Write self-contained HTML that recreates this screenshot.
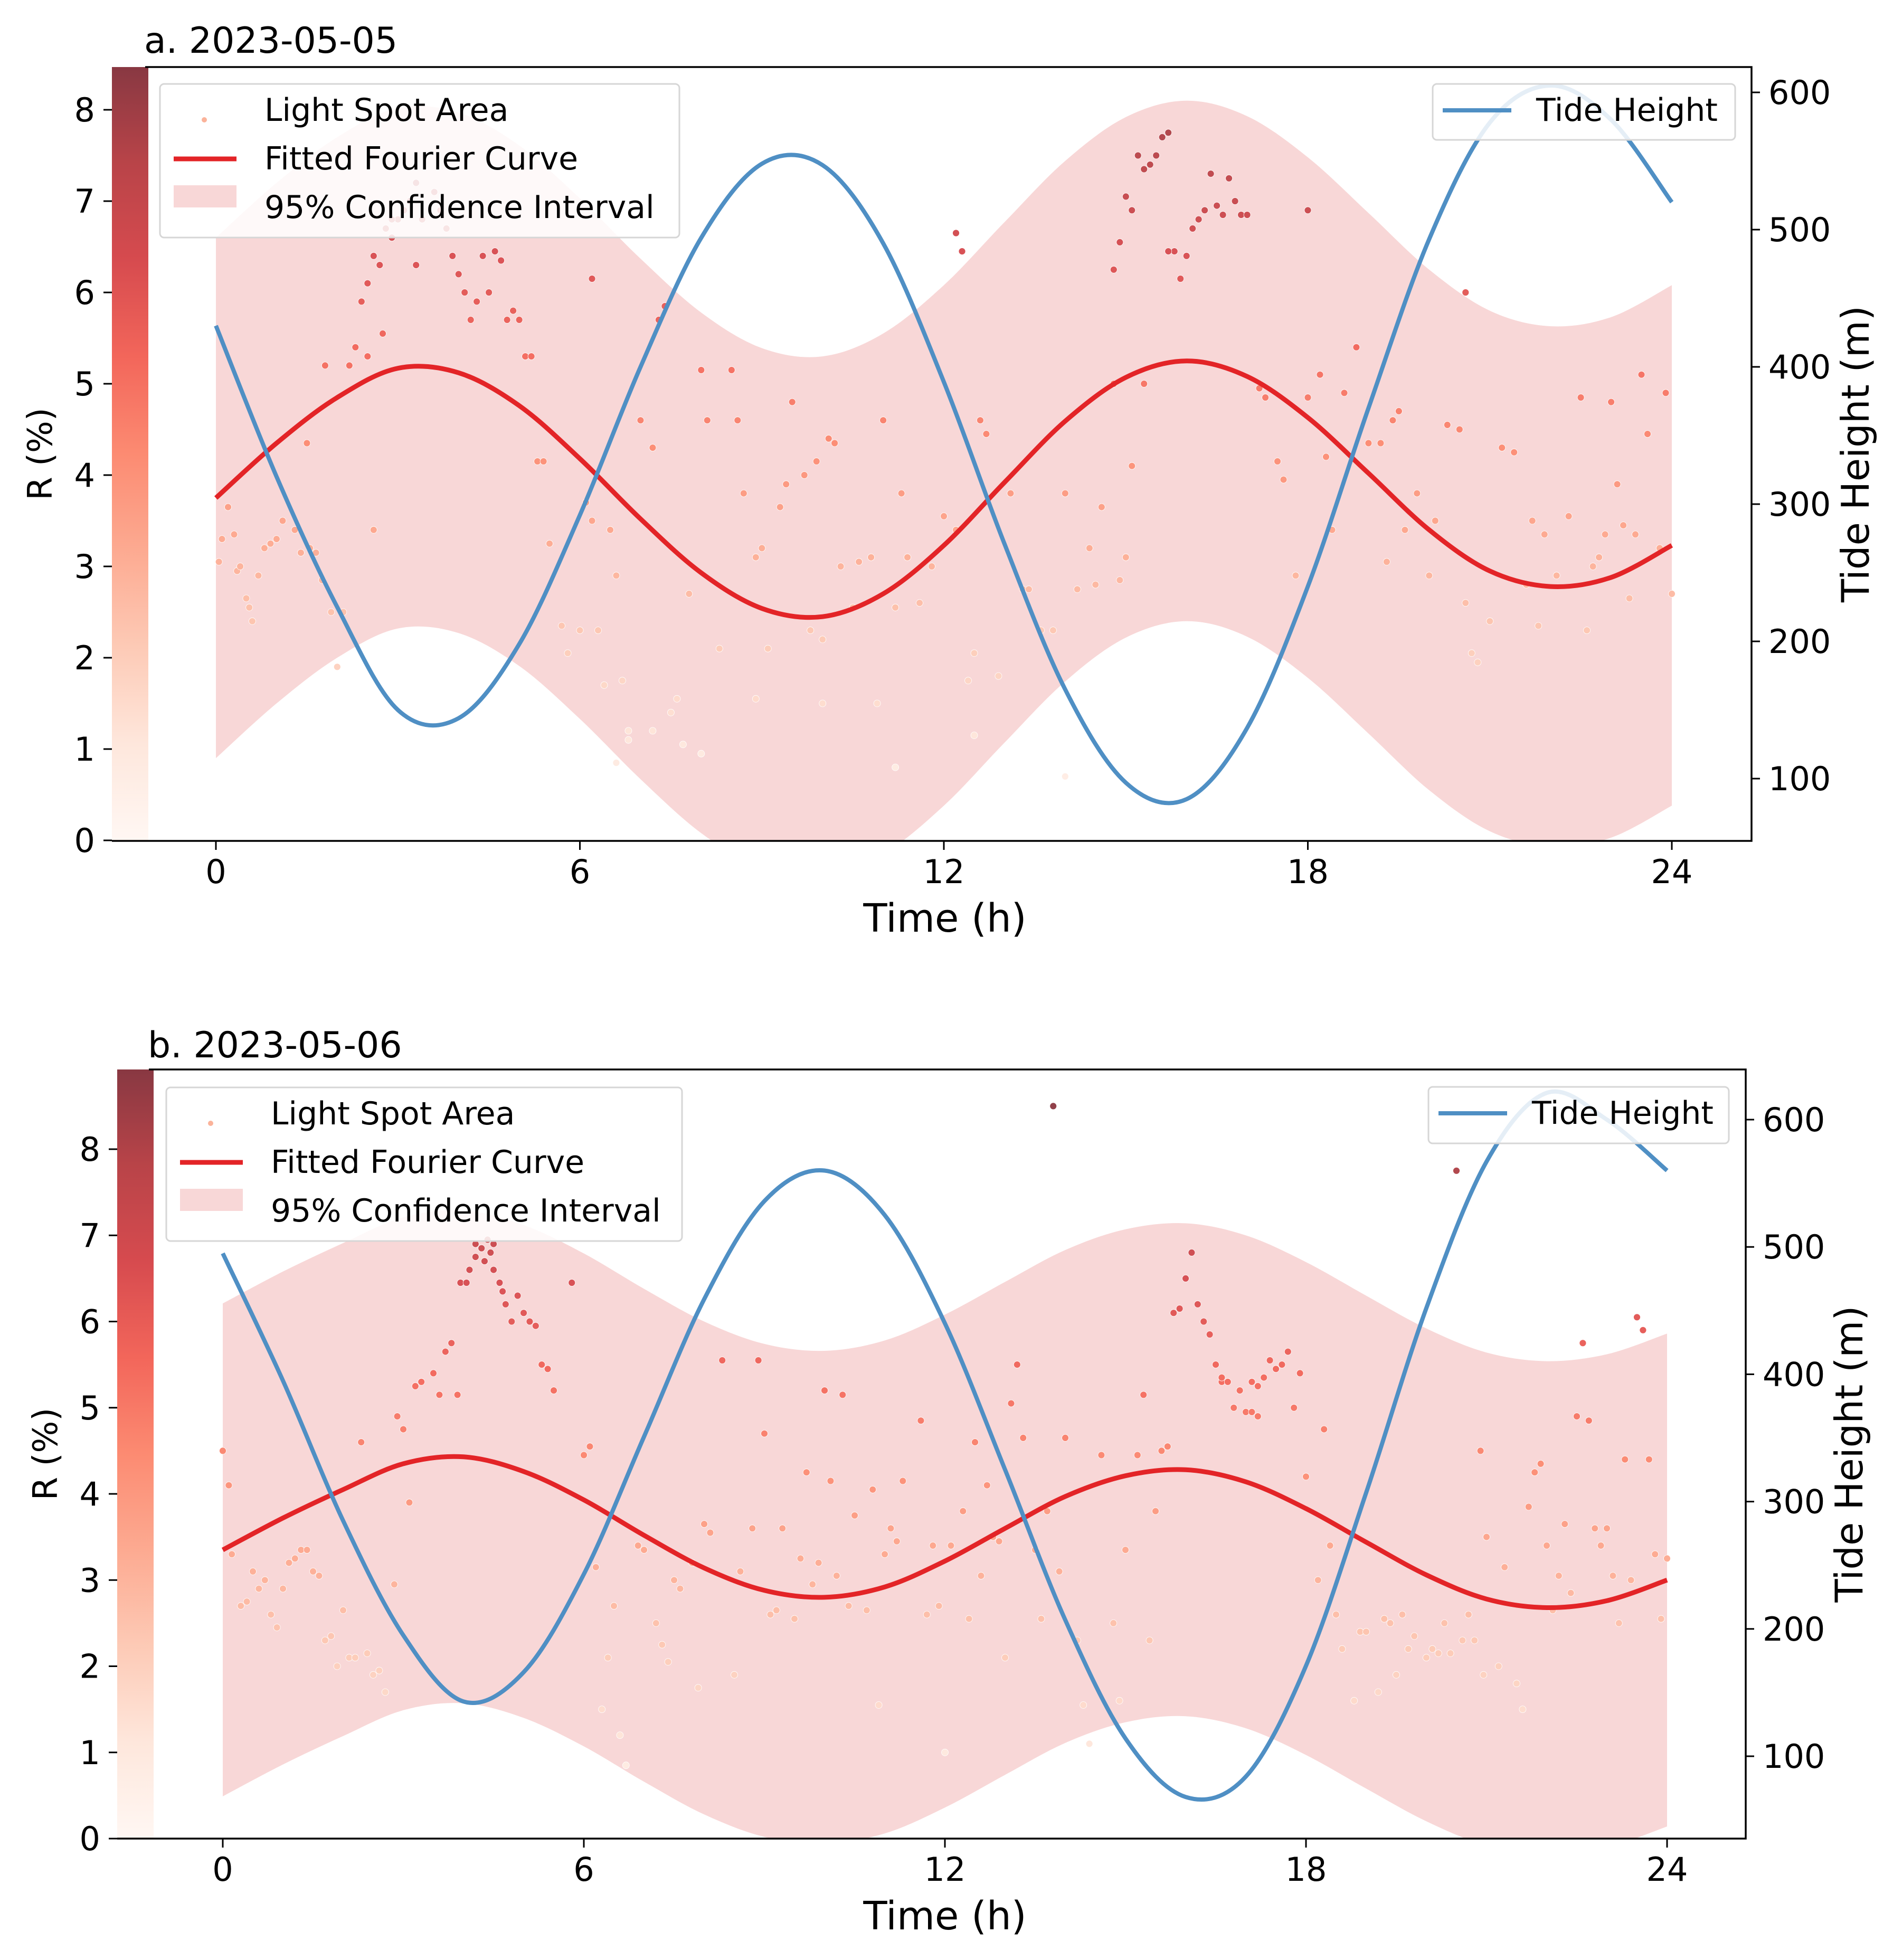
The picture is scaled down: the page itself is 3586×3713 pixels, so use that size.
<!DOCTYPE html>
<html><head><meta charset="utf-8">
<style>
html,body{margin:0;padding:0;background:#fff;}
svg{display:block;font-family:"DejaVu Sans","Liberation Sans",sans-serif;}
</style></head>
<body>
<svg id="chart" width="3586" height="3713" viewBox="0 0 3586 3713" xmlns="http://www.w3.org/2000/svg">
<defs>
<linearGradient id="cbar" x1="0" y1="1" x2="0" y2="0">
<stop offset="0" stop-color="#fff5f0"/><stop offset="0.125" stop-color="#fee0d2"/><stop offset="0.25" stop-color="#fcbba1"/><stop offset="0.375" stop-color="#fc9272"/><stop offset="0.5" stop-color="#fb6a4a"/><stop offset="0.625" stop-color="#ef3b2c"/><stop offset="0.75" stop-color="#cb181d"/><stop offset="0.875" stop-color="#a50f15"/><stop offset="1" stop-color="#67000d"/>
</linearGradient>
</defs>
</svg>
<script>
// ===== Panel a data (2023-05-05) =====
const hoursA = [0,1,2,3,4,5,6,7,8,9,10,11,12,13,14,15,16,17,18,19,20,21,22,23,24];
const tideA = [430,320,225,150,144,198,292,400,494,548,547,490,389,271,165,97,85,137,240,370,493,578,605,580,520];
const fitA = [3.75,4.35,4.85,5.17,5.12,4.76,4.18,3.52,2.93,2.54,2.45,2.7,3.23,3.92,4.59,5.07,5.25,5.08,4.63,4.02,3.4,2.95,2.78,2.88,3.23];
const ciHalfA = [2.85];
const pointsTA = [2.2,2.3,2.4,2.5,2.6,2.8,2.9,3.0,3.1,3.2,3.3,3.4,3.6,3.7,3.8,3.9,4.0,4.1,4.2,4.3,4.4,4.5,4.6,4.7,4.8,4.9,5.0,5.1,2.7,2.9,3.3,2.75,2.5,1.8,5.2,
0.05,0.1,0.2,0.3,0.35,0.4,0.5,0.55,0.6,0.7,0.8,0.9,1.0,1.1,1.3,1.4,1.5,1.55,1.65,1.75,1.9,2.0,2.1,2.6,5.3,5.4,5.5,5.7,5.8,6.0,6.1,6.2,6.3,6.4,6.5,6.6,6.7,6.8,7.0,7.2,7.3,7.4,7.6,7.8,8.0,8.1,8.3,8.5,8.6,8.7,8.9,9.0,9.1,9.3,9.4,9.5,9.7,9.8,9.9,10.0,10.1,10.2,10.3,10.5,10.6,10.8,10.9,11.0,11.2,11.3,11.4,11.6,11.8,12.0,12.2,12.4,12.5,12.6,12.7,12.9,13.1,13.3,13.4,13.6,13.8,14.0,14.2,14.4,14.5,14.6,14.8,14.9,15.0,15.3,15.1,
14.8,14.9,15.0,15.1,15.2,15.3,15.4,15.5,15.6,15.7,15.8,15.9,16.0,16.1,16.2,16.3,16.4,16.5,16.6,16.7,16.8,16.9,17.0,15.7,12.2,12.3,18.0,20.6,6.2,
17.2,17.3,17.5,17.6,17.8,18.0,18.2,18.3,18.4,18.6,18.8,19.0,19.2,19.3,19.4,19.5,19.6,19.8,20.0,20.1,20.3,20.5,20.6,20.7,20.8,21.0,21.2,21.4,21.6,21.8,21.9,22.1,22.3,22.5,22.6,22.7,22.8,23.0,23.1,23.2,23.4,23.5,23.6,23.8,24.0,23.3,22.9,21.7,23.9,
6.8,7.2,7.7,8.0,7.5,11.2,12.5,10.0,14.0,8.9,6.6];
const pointsRA = [5.2,5.4,5.9,6.1,6.4,6.7,6.6,6.8,6.9,7.0,7.2,6.8,7.1,6.9,6.7,6.4,6.2,6.0,5.7,5.9,6.4,6.0,6.45,6.35,5.7,5.8,5.7,5.3,6.3,6.8,6.3,5.55,5.3,5.2,5.3,
3.05,3.3,3.65,3.35,2.95,3.0,2.65,2.55,2.4,2.9,3.2,3.25,3.3,3.5,3.4,3.15,4.35,3.2,3.15,2.85,2.5,1.9,2.5,3.4,4.15,4.15,3.25,2.35,2.05,2.3,3.7,3.5,2.3,1.7,3.4,2.9,1.75,1.2,4.6,4.3,5.7,5.85,1.55,2.7,5.15,4.6,2.1,5.15,4.6,3.8,3.1,3.2,2.1,3.65,3.9,4.8,4.0,2.3,4.15,2.2,4.4,4.35,3.0,2.55,3.05,3.1,1.5,4.6,2.55,3.8,3.1,2.6,3.0,3.55,3.4,1.75,2.05,4.6,4.45,1.8,3.8,2.75,2.75,2.3,2.3,3.8,2.75,3.2,2.8,3.65,5.0,2.85,3.1,5.0,4.1,
6.25,6.55,7.05,6.9,7.5,7.35,7.4,7.5,7.7,7.75,6.45,6.15,6.4,6.7,6.8,6.9,7.3,6.95,6.85,7.25,7.0,6.85,6.85,6.45,6.65,6.45,6.9,6.0,6.15,
4.95,4.85,4.15,3.95,2.9,4.85,5.1,4.2,3.4,4.9,5.4,4.35,4.35,3.05,4.6,4.7,3.4,3.8,2.9,3.5,4.55,4.5,2.6,2.05,1.95,2.4,4.3,4.25,2.8,2.35,3.35,2.9,3.55,4.85,2.3,3.0,3.1,4.8,3.9,3.45,3.35,5.1,4.45,3.2,2.7,2.65,3.35,3.5,4.9,
1.1,1.2,1.05,0.95,1.4,0.8,1.15,1.5,0.7,1.55,0.85];

// ===== Panel b data (2023-05-06) =====
const hoursB = [0,1,2,3,4,5,6,7,8,9,10,11,12,13,14,15,16,17,18,19,20,21,22,23,24];
const tideB = [495,395,285,195,143,166,243,351,459,536,560,525,440,325,207,114,68,84,171,307,452,567,621,600,560];
const fitB = [3.35,3.72,4.05,4.35,4.43,4.26,3.93,3.52,3.14,2.88,2.8,2.92,3.22,3.6,3.97,4.21,4.28,4.14,3.83,3.44,3.06,2.78,2.68,2.76,3.0];
const ciHalfB = [2.86];
const pointsTB = [2.9,3.0,3.2,3.3,3.5,3.6,3.7,3.8,3.9,3.95,4.05,4.1,4.2,4.3,4.35,4.45,4.5,4.6,4.7,4.8,4.9,5.0,5.1,5.2,5.3,5.4,5.5,5.8,4.2,4.5,4.65,4.4,
0.0,0.1,0.15,0.3,0.4,0.5,0.6,0.7,0.8,0.9,1.0,1.1,1.2,1.3,1.4,1.5,1.6,1.7,1.8,1.9,2.1,2.2,2.3,2.5,2.6,2.7,2.85,3.1,2.0,2.4,
6.0,6.1,6.2,6.3,6.4,6.5,6.6,6.7,6.9,7.0,7.2,7.3,7.4,7.5,7.6,7.8,7.9,8.0,8.1,8.3,8.5,8.6,8.8,8.9,9.0,9.1,9.2,9.3,9.5,9.6,9.7,9.8,9.9,10.0,10.1,10.2,10.3,10.4,10.5,10.7,10.8,10.9,11.0,11.1,11.2,11.3,11.6,11.7,11.8,11.9,12.0,12.1,12.3,12.4,12.5,12.6,12.7,12.8,12.9,13.0,13.1,13.2,13.3,13.5,13.6,13.7,13.8,13.9,14.0,14.2,14.3,14.4,14.6,14.8,14.9,15.0,15.2,15.4,15.6,15.7,15.3,15.5,
15.8,15.9,16.0,16.1,16.2,16.3,16.4,16.5,16.6,16.7,16.8,16.9,17.0,17.1,17.2,17.3,17.4,17.5,17.6,17.7,17.8,17.9,16.6,17.1,17.2,18.3,18.0,
18.2,18.4,18.5,18.6,18.8,18.9,19.0,19.2,19.3,19.4,19.5,19.6,19.7,19.8,20.0,20.1,20.2,20.3,20.4,20.6,20.7,20.8,20.9,20.95,21.0,21.2,21.3,21.5,21.7,21.8,21.9,22.0,22.1,22.2,22.3,22.5,22.6,22.7,22.8,22.9,23.0,23.1,23.2,23.3,23.4,23.5,23.6,23.7,23.8,23.9,24.0,21.6,20.5,22.4];
const pointsRB = [4.9,4.75,5.25,5.3,5.4,5.15,5.65,5.75,5.15,6.45,6.45,6.6,6.75,6.85,6.7,6.8,6.6,6.45,6.2,6.0,6.3,6.1,6.0,5.95,5.5,5.45,5.2,6.45,6.9,6.9,6.35,6.95,
4.5,4.1,3.3,2.7,2.75,3.1,2.9,3.0,2.6,2.45,2.9,3.2,3.25,3.35,3.35,3.1,3.05,2.3,2.35,2.0,2.1,2.1,4.6,1.9,1.95,1.7,2.95,3.9,2.65,2.15,
4.45,4.55,3.15,1.5,2.1,2.7,1.2,0.85,3.4,3.35,2.5,2.25,2.05,3.0,2.9,3.2,1.75,3.65,3.55,5.55,1.9,3.1,3.6,5.55,4.7,2.6,2.65,3.6,2.55,3.25,4.25,2.95,3.2,5.2,4.15,3.05,5.15,2.7,3.75,2.65,4.05,1.55,3.3,3.6,3.45,4.15,4.85,2.6,3.4,2.7,1.0,3.4,3.8,2.55,4.6,3.05,4.1,3.5,3.45,2.1,5.05,5.5,4.65,3.35,2.55,3.8,8.5,3.1,4.65,2.3,1.55,1.1,4.45,2.5,1.6,3.35,4.45,2.3,4.5,4.55,5.15,3.8,
6.1,6.15,6.5,6.8,6.2,6.0,5.85,5.5,5.3,5.3,5.0,5.2,4.95,4.95,5.25,5.35,5.55,5.45,5.5,5.65,5.0,5.4,5.35,5.3,4.9,4.75,4.2,
3.0,3.4,2.6,2.2,1.6,2.4,2.4,1.7,2.55,2.5,1.9,2.6,2.2,2.35,2.1,2.2,2.15,2.5,2.15,2.3,2.6,2.3,4.5,1.9,3.5,2.0,3.15,1.8,3.85,4.25,4.35,3.4,2.65,3.05,3.65,4.9,5.75,4.85,3.6,3.4,3.6,3.05,2.5,4.4,3.0,6.05,5.9,4.4,3.3,2.55,3.25,1.5,7.75,2.85];

// ===== tick labels =====
const xTicks = [0,6,12,18,24];
const yTicks = [0,1,2,3,4,5,6,7,8];
const tideTicks = [100,200,300,400,500,600];

const NS = 'http://www.w3.org/2000/svg';
const svg = document.getElementById('chart');
function mk(tag, attrs, parent){const e=document.createElementNS(NS,tag);for(const k in attrs)e.setAttribute(k,attrs[k]);(parent||svg).appendChild(e);return e;}

const stops=[[255,245,240],[254,224,210],[252,187,161],[252,146,114],[251,106,74],[239,59,44],[203,24,29],[165,15,21],[103,0,13]];
function reds(v){let t=Math.max(0,Math.min(1,v/8.6))*8;const i=Math.min(7,Math.floor(t));const f=t-i;const a=stops[i],b=stops[i+1];
 const c=a.map((x,k)=>Math.round((x+(b[k]-x)*f)*0.75+255*0.25));return 'rgb('+c.join(',')+')';}

function smoothPath(xs, ys){
 let d='M'+xs[0].toFixed(1)+','+ys[0].toFixed(1);
 for(let i=0;i<xs.length-1;i++){
  const x0=xs[Math.max(0,i-1)],y0=ys[Math.max(0,i-1)],x1=xs[i],y1=ys[i],x2=xs[i+1],y2=ys[i+1],x3=xs[Math.min(xs.length-1,i+2)],y3=ys[Math.min(xs.length-1,i+2)];
  const c1x=x1+(x2-x0)/6,c1y=y1+(y2-y0)/6,c2x=x2-(x3-x1)/6,c2y=y2-(y3-y1)/6;
  d+=' C'+c1x.toFixed(1)+','+c1y.toFixed(1)+' '+c2x.toFixed(1)+','+c2y.toFixed(1)+' '+x2.toFixed(1)+','+y2.toFixed(1);
 }
 return d;
}

function panel(cfg){
 const g=mk('g',{});
 
 
 const X=t=>cfg.x0+(cfg.x24-cfg.x0)*t/24;
 const Y=r=>cfg.y0+(cfg.y8-cfg.y0)*r/8;
 const T=h=>cfg.t100+(cfg.t600-cfg.t100)*(h-100)/500;
 const clipId='clip-'+cfg.name;
 const cp=mk('clipPath',{id:clipId},g);
 mk('rect',{x:cfg.left,y:cfg.top,width:cfg.right-cfg.left,height:cfg.bottom-cfg.top},cp);
 // colorbar
 const cb=mk('rect',{x:cfg.cbx,y:cfg.top,width:69,height:cfg.y0-cfg.top,fill:'url(#cbar)',opacity:'0.78'},g);
 
 
 const plot=mk('g',{'clip-path':'url(#'+clipId+')'},g);
 const xs=cfg.hours.map(X);
 const up=cfg.fit.map(v=>Y(v+cfg.ci[0])), lo=cfg.fit.map(v=>Y(v-cfg.ci[0]));
 let d=smoothPath(xs,up);
 const rx=xs.slice().reverse(), rl=lo.slice().reverse();
 d+=' L'+smoothPath(rx,rl).slice(1)+' Z';
 const band=mk('path',{d:d,fill:'#f8d7d7'},plot);
 
 
 const sg=mk('g',{},plot);
 
 
 for(let i=0;i<cfg.pt.length;i++){
  const c=mk('circle',{cx:X(cfg.pt[i]).toFixed(1),cy:Y(cfg.pr[i]).toFixed(1),r:6.5,fill:reds(cfg.pr[i]),stroke:'#fff','stroke-width':'0.8'},sg);
  
  
 }
 const fl=mk('path',{d:smoothPath(xs,cfg.fit.map(Y)),fill:'none',stroke:'#e32427','stroke-width':9},plot);
 
 
 const tl=mk('path',{d:smoothPath(xs,cfg.tide.map(T)),fill:'none',stroke:'#4f8fc4','stroke-width':8},plot);
 
 
 mk('path',{d:'M'+cfg.left+','+cfg.top+' H'+cfg.right+' V'+cfg.bottom+' H'+cfg.cbx,fill:'none',stroke:'#000','stroke-width':3.5},g);
 xTicks.forEach(t=>{const x=X(t);mk('line',{x1:x,x2:x,y1:cfg.bottom,y2:cfg.bottom+17,stroke:'#000','stroke-width':3},g);
  const tx=mk('text',{x:x,y:cfg.bottom+80,'font-size':62,'text-anchor':'middle'},g);tx.textContent=t;
  });
 yTicks.forEach(v=>{const y=Y(v);mk('line',{x1:cfg.cbx-16,x2:cfg.cbx,y1:y,y2:y,stroke:'#000','stroke-width':3},g);
  const tx=mk('text',{x:cfg.cbx-32,y:y+22,'font-size':62,'text-anchor':'end'},g);tx.textContent=v;
  });
 tideTicks.forEach(v=>{const y=T(v);if(y<cfg.top||y>cfg.bottom)return;mk('line',{x1:cfg.right,x2:cfg.right+16,y1:y,y2:y,stroke:'#000','stroke-width':3},g);
  const tx=mk('text',{x:cfg.right+32,y:y+22,'font-size':62},g);tx.textContent=v;
  });
 let t=mk('text',{x:cfg.left-2,y:cfg.titleY,'font-size':68},g);t.textContent=cfg.title;
 
 t=mk('text',{x:1790,y:cfg.bottom+172,'font-size':74,'text-anchor':'middle'},g);t.textContent='Time (h)';
 
 const cy=(cfg.top+cfg.bottom)/2;
 t=mk('text',{x:0,y:0,'font-size':64,'text-anchor':'middle',transform:'translate('+(cfg.ylx)+','+cy+') rotate(-90)'},g);t.textContent='R (%)';
 
 t=mk('text',{x:0,y:0,'font-size':72,'text-anchor':'middle',transform:'translate('+(cfg.tlx)+','+cy+') rotate(-90)'},g);t.textContent='Tide Height (m)';
 
 const L=cfg.leg;
 const lg=mk('g',{},g);
 mk('rect',{x:L[0],y:L[1],width:L[2]-L[0],height:L[3]-L[1],rx:8,fill:'rgba(255,255,255,0.85)',stroke:'#d6d6d6','stroke-width':3},lg);
 const rowY=[L[1]+70,L[1]+162,L[1]+254];
 mk('circle',{cx:L[0]+84,cy:rowY[0]-2,r:5,fill:'#fbb39a'},lg);
 mk('line',{x1:L[0]+26,x2:L[0]+145,y1:rowY[1]-20,y2:rowY[1]-20,stroke:'#e32427','stroke-width':9},lg);
 mk('rect',{x:L[0]+26,y:rowY[2]-62,width:119,height:42,fill:'#f8d7d7'},lg);
 ['Light Spot Area','Fitted Fourier Curve','95% Confidence Interval'].forEach((s,i)=>{const e=mk('text',{x:L[0]+198,y:rowY[i],'font-size':60},lg);e.textContent=s;
  });
 const R=cfg.legR;
 const rg=mk('g',{},g);
 mk('rect',{x:R[0],y:R[1],width:R[2]-R[0],height:R[3]-R[1],rx:8,fill:'rgba(255,255,255,0.85)',stroke:'#d6d6d6','stroke-width':3},rg);
 mk('line',{x1:R[0]+19,x2:R[0]+149,y1:R[1]+50,y2:R[1]+50,stroke:'#4f8fc4','stroke-width':8},rg);
 const e=mk('text',{x:R[0]+196,y:R[1]+70,'font-size':60},rg);e.textContent='Tide Height';
 
}

panel({name:'panel-a',title:'a. 2023-05-05',left:275,right:3318,top:127,bottom:1593,cbx:212,x0:409,x24:3167,y0:1592,y8:208,t100:1475,t600:175,
 hours:hoursA,tide:tideA,fit:fitA,ci:ciHalfA,pt:pointsTA,pr:pointsRA,titleY:100,ylx:98,tlx:3540,leg:[303,159,1287,450],legR:[2714,159,3287,265]});
panel({name:'panel-b',title:'b. 2023-05-06',left:282,right:3307,top:2026,bottom:3483,cbx:222,x0:422,x24:3158,y0:3483,y8:2177,t100:3327,t600:2121,
 hours:hoursB,tide:tideB,fit:fitB,ci:ciHalfB,pt:pointsTB,pr:pointsRB,titleY:2003,ylx:108,tlx:3528,leg:[315,2060,1292,2351],legR:[2706,2059,3275,2166]});
</script>
</body></html>
